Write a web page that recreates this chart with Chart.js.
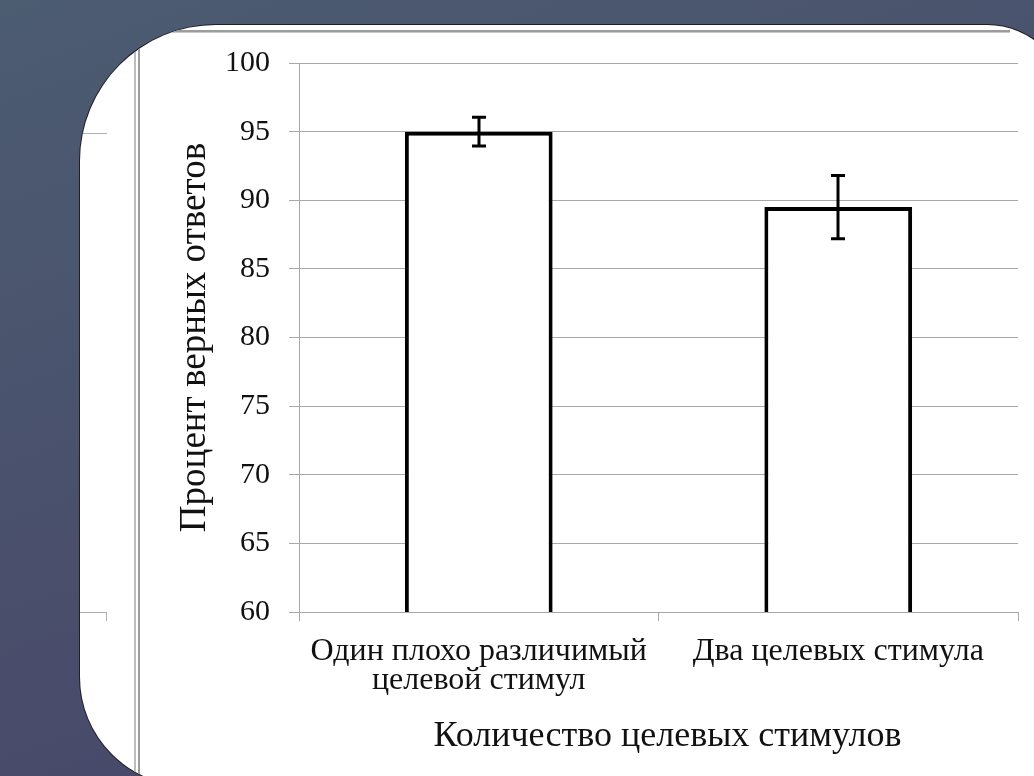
<!DOCTYPE html>
<html>
<head>
<meta charset="utf-8">
<script src="https://cdn.jsdelivr.net/npm/chart.js@4.4.0/dist/chart.umd.min.js"></script>
<style>
html,body{margin:0;padding:0;width:1034px;height:776px;overflow:hidden;}
body{position:relative;background:linear-gradient(160deg,#4c5c71 0%,#494e6b 55%,#47436a 100%);}
#panel{position:absolute;left:80px;top:25px;width:988px;height:761px;background:#fff;border-radius:136px 81px 0 109px;box-shadow:0 0 0 1px #1e1e28;overflow:hidden;}
.ln{position:absolute;}
#c{position:absolute;left:0;top:0;z-index:3;}
</style>
</head>
<body>
<div id="panel">
  <div class="ln" style="left:54px;top:6px;width:2px;height:760px;background:#bdbdbd"></div>
  <div class="ln" style="left:58px;top:6px;width:2px;height:760px;background:#9c9c9c"></div>
  <div class="ln" style="left:56px;top:5px;width:874px;height:2px;background:#9c9c9c"></div>
  <div class="ln" style="left:56px;top:7px;width:874px;height:1px;background:#c8c8c8"></div>
  <div class="ln" style="left:0px;top:108px;width:27px;height:1px;background:#b0b0b0"></div>
  <div class="ln" style="left:0px;top:587px;width:27px;height:1px;background:#b0b0b0"></div>
  <div class="ln" style="left:26px;top:587px;width:1px;height:9px;background:#b0b0b0"></div>
</div>
<canvas id="c" width="1034" height="776"></canvas>
<script>
const categories = [['Один плохо различимый', 'целевой стимул'], ['Два целевых стимула']];
const values = [95.0, 89.5];
const errors = [1.05, 2.3];
const yMin = 60, yMax = 100, yStep = 5;
const yTitle = 'Процент верных ответов';
const xTitle = '\u2002Количество целевых стимулов';

const FONT = "'Liberation Serif', 'Times New Roman', serif";
const GRID = '#a8a8a8';

const errorBars = {
  id: 'errorBars',
  afterDatasetsDraw(chart) {
    const ctx = chart.ctx;
    const meta = chart.getDatasetMeta(0);
    const ys = chart.scales.y;
    ctx.save();
    ctx.strokeStyle = '#000';
    ctx.lineWidth = 3;
    meta.data.forEach((bar, i) => {
      const x = Math.round(bar.x);
      const yT = ys.getPixelForValue(values[i] + errors[i]);
      const yB = ys.getPixelForValue(values[i] - errors[i]);
      ctx.beginPath();
      ctx.moveTo(x, yT); ctx.lineTo(x, yB);
      ctx.moveTo(x - 7, yT); ctx.lineTo(x + 7, yT);
      ctx.moveTo(x - 7, yB); ctx.lineTo(x + 7, yB);
      ctx.stroke();
    });
    ctx.restore();
  }
};

new Chart(document.getElementById('c'), {
  type: 'bar',
  data: {
    labels: categories,
    datasets: [{
      data: values,
      backgroundColor: '#ffffff',
      borderColor: '#000000',
      borderWidth: 4,
      borderSkipped: false,
      barPercentage: 0.411,
      categoryPercentage: 1.0
    }]
  },
  options: {
    responsive: false,
    animation: false,
    devicePixelRatio: 1,
    layout: { padding: { left: 150, top: 63, right: 16, bottom: 0 } },
    plugins: { legend: { display: false }, tooltip: { enabled: false } },
    scales: {
      x: {
        grid: { display: true, drawOnChartArea: false, drawTicks: true, tickLength: 9, color: GRID, offset: true },
        border: { display: true, color: GRID, width: 1 },
        ticks: { color: '#111', font: { family: FONT, size: 32, lineHeight: 0.9 }, padding: 16, maxRotation: 0, autoSkip: false },
        title: { display: true, text: xTitle, color: '#111', font: { family: FONT, size: 36, lineHeight: 1.2 }, padding: { top: 0, bottom: 18 } },
        afterFit(scale) { scale.height = 164; }
      },
      y: {
        min: yMin, max: yMax,
        grid: { color: GRID, tickLength: 10, drawTicks: true },
        border: { display: true, color: GRID, width: 1 },
        ticks: { stepSize: yStep, color: '#111', font: { family: FONT, size: 30 }, padding: 19 },
        title: { display: true, text: yTitle, color: '#111', font: { family: FONT, size: 37, lineHeight: 1.2 }, padding: { top: 23, bottom: 0 } },
        afterFit(scale) { scale.width = 149; }
      }
    }
  },
  plugins: [errorBars]
});
</script>
</body>
</html>
